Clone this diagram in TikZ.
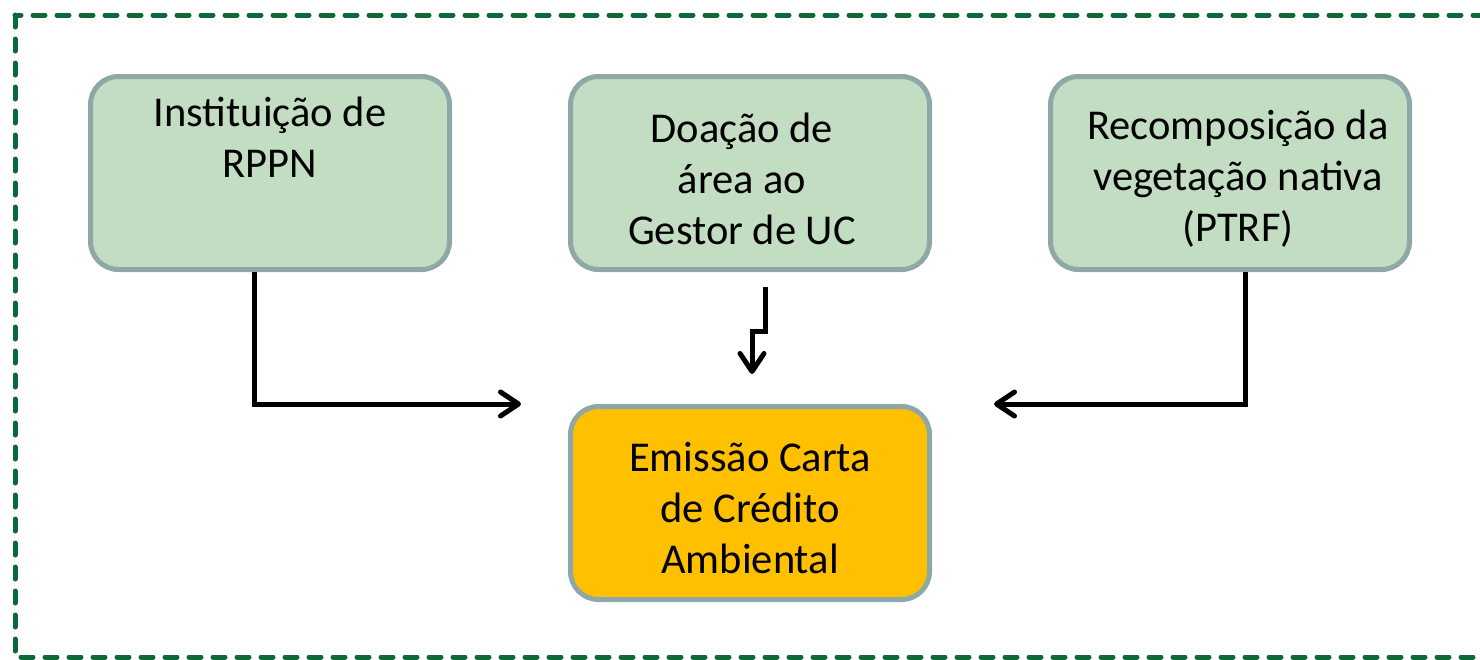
\documentclass[tikz,border=0pt]{standalone}
\usepackage{fontspec}
\setmainfont{Carlito}
\usetikzlibrary{arrows.meta,calc}
\definecolor{boxfill}{RGB}{194,221,194}
\definecolor{boxedge}{RGB}{142,168,168}
\definecolor{orangefill}{RGB}{255,192,0}
\definecolor{frame}{RGB}{12,106,56}
\tikzset{
  box/.style={draw=boxedge, line width=5pt, rounded corners=28pt, minimum width=359pt, minimum height=193pt, inner sep=0pt},
  greenbox/.style={box, fill=boxfill},
  orangebox/.style={box, fill=orangefill},
  txt/.style={align=center, font=\fontsize{42.5}{51}\selectfont, inner sep=0pt},
  conn/.style={line width=5pt, line join=miter, -{Straight Barb[length=18pt, width=24pt, line cap=round, line join=round]}},
}
\begin{document}
\begin{tikzpicture}[x=1pt,y=-1pt]
\useasboundingbox (0,0) rectangle (1480,659);
\draw[frame, line width=5pt, dash pattern=on 12pt off 12pt, line cap=round] (15,15) rectangle (1500,657);
\node[greenbox] (b1) at (270,173) {};
\node[greenbox] (b2) at (750,173) {};
\node[greenbox] (b3) at (1230,173) {};
\node[orangebox] (b4) at (750,503) {};
\node[txt, anchor=north] (t1) at ($(b1.north)+(0,23)$) {Instituição de\\RPPN};
\node[txt] (t2) at ($(b2)+(-8,6)$) {Doação de\\área ao\\Gestor de UC};
\node[txt] (t3) at ($(b3)+(8,6)$) {Recomposição da\\vegetação nativa\\(PTRF)};
\node[txt] (t4) at ($(b4)+(0,5)$) {Emissão Carta\\de Crédito\\Ambiental};
\coordinate (s1) at ($(b1.south)+(-16,0)$);
\coordinate (s3) at ($(b3.south)+(15,0)$);
\coordinate (a1) at ($(b4.west)+(-47,-99)$);
\coordinate (a3) at ($(b4.east)+(62,-99)$);
\coordinate (m0) at ($(b2.south)+(15.5,15)$);
\coordinate (m1) at ($(b4.north)+(2,-30)$);
\draw[conn] (s1) |- (a1);
\draw[conn] (s3) |- (a3);
\draw[conn] (m0) -- ++(0,44) -| (m1);
\end{tikzpicture}
\end{document}
